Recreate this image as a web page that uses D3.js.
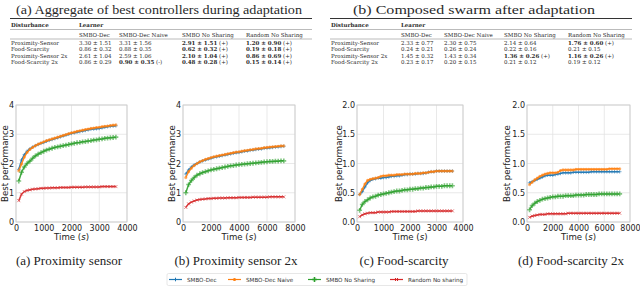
<!DOCTYPE html>
<html>
<head>
<meta charset="utf-8">
<script src="https://cdn.jsdelivr.net/npm/d3@7"></script>
<style>
  body { margin: 0; background: #fff; }
  svg { display: block; }
</style>
</head>
<body>
<script>
// ---- data ----
var learners = ["SMBO-Dec", "SMBO-Dec Naive", "SMBO No Sharing", "Random No sharing"];
var colors = ["#1f77b4", "#ff7f0e", "#2ca02c", "#d62728"];

var timeShort = [100,200,300,400,500,600,700,800,900,1000,1100,1200,1300,1400,1500,1600,1700,1800,
  1900,2000,2100,2200,2300,2400,2500,2600,2700,2800,2900,3000,3100,3200,3300,3400,3500,3600];
var timeLong = [200,400,600,800,1000,1200,1400,1600,1800,2000,2200,2400,2600,2800,3000,3200,3400,3600,
  3800,4000,4200,4400,4600,4800,5000,5200,5400,5600,5800,6000,6200,6400,6600,6800,7000,7200];

// (a) Proximity sensor
var proxDec   = [1.80,2.12,2.30,2.42,2.50,2.56,2.61,2.65,2.69,2.72,2.76,2.79,2.82,2.85,2.88,2.91,2.94,2.97,3.00,3.03,3.05,3.07,3.09,3.11,3.13,3.15,3.17,3.18,3.19,3.20,3.22,3.24,3.26,3.27,3.28,3.29];
var proxNaive = [1.75,1.98,2.22,2.38,2.48,2.55,2.61,2.66,2.70,2.74,2.78,2.81,2.84,2.87,2.90,2.93,2.96,2.99,3.02,3.05,3.07,3.10,3.12,3.14,3.16,3.18,3.20,3.21,3.23,3.24,3.26,3.27,3.28,3.30,3.31,3.32];
var proxNoSh  = [1.40,1.70,1.88,2.00,2.08,2.18,2.26,2.32,2.37,2.42,2.46,2.49,2.52,2.55,2.57,2.59,2.61,2.63,2.65,2.67,2.69,2.71,2.72,2.74,2.75,2.77,2.78,2.80,2.81,2.83,2.84,2.86,2.87,2.88,2.89,2.90];
var proxRand  = [0.73,0.95,1.04,1.08,1.10,1.12,1.13,1.14,1.15,1.15,1.16,1.16,1.17,1.17,1.17,1.18,1.18,1.18,1.18,1.19,1.19,1.19,1.19,1.19,1.20,1.20,1.20,1.20,1.20,1.20,1.21,1.21,1.21,1.21,1.21,1.21];

// (b) Proximity sensor 2x
var prox2Dec   = [1.64,1.78,1.88,1.95,2.00,2.05,2.09,2.12,2.15,2.18,2.21,2.23,2.25,2.27,2.29,2.31,2.33,2.35,2.37,2.38,2.40,2.42,2.43,2.45,2.46,2.48,2.49,2.50,2.52,2.53,2.54,2.55,2.56,2.57,2.58,2.59];
var prox2Naive = [1.52,1.72,1.84,1.93,2.00,2.06,2.10,2.14,2.17,2.20,2.23,2.25,2.27,2.29,2.31,2.33,2.35,2.37,2.39,2.40,2.42,2.44,2.45,2.47,2.48,2.50,2.51,2.52,2.54,2.55,2.56,2.57,2.58,2.59,2.60,2.60];
var prox2NoSh  = [1.00,1.28,1.42,1.52,1.60,1.65,1.69,1.72,1.75,1.78,1.80,1.82,1.84,1.86,1.88,1.90,1.92,1.93,1.95,1.96,1.97,1.98,1.99,2.00,2.01,2.02,2.03,2.04,2.05,2.06,2.07,2.07,2.08,2.08,2.09,2.09];
var prox2Rand  = [0.50,0.62,0.68,0.72,0.75,0.77,0.78,0.79,0.80,0.80,0.81,0.81,0.82,0.82,0.82,0.83,0.83,0.83,0.83,0.84,0.84,0.84,0.84,0.84,0.85,0.85,0.85,0.85,0.85,0.85,0.86,0.86,0.86,0.86,0.86,0.86];

// (c) Food-scarcity
var foodDec   = [0.47,0.52,0.60,0.67,0.71,0.73,0.74,0.75,0.75,0.76,0.76,0.77,0.78,0.78,0.79,0.79,0.80,0.81,0.81,0.82,0.82,0.82,0.83,0.83,0.83,0.84,0.85,0.86,0.86,0.87,0.87,0.87,0.87,0.87,0.87,0.87];
var foodNaive = [0.47,0.56,0.65,0.71,0.73,0.74,0.75,0.76,0.78,0.79,0.79,0.80,0.80,0.80,0.81,0.81,0.81,0.82,0.82,0.82,0.82,0.83,0.83,0.83,0.84,0.84,0.85,0.86,0.86,0.87,0.87,0.87,0.87,0.87,0.87,0.87];
var foodNoSh  = [0.20,0.30,0.35,0.38,0.41,0.43,0.44,0.46,0.47,0.48,0.49,0.50,0.51,0.52,0.53,0.53,0.54,0.55,0.55,0.56,0.56,0.57,0.57,0.58,0.58,0.59,0.59,0.60,0.60,0.61,0.61,0.61,0.62,0.62,0.62,0.62];
var foodRand  = [0.09,0.12,0.14,0.15,0.16,0.16,0.16,0.17,0.17,0.17,0.17,0.17,0.18,0.18,0.18,0.18,0.18,0.18,0.18,0.18,0.18,0.18,0.19,0.19,0.19,0.19,0.19,0.19,0.19,0.19,0.19,0.19,0.19,0.19,0.19,0.19];

// (d) Food-scarcity 2x
var food2Dec   = [0.67,0.69,0.71,0.73,0.75,0.77,0.79,0.80,0.80,0.80,0.81,0.82,0.83,0.84,0.84,0.84,0.84,0.85,0.85,0.85,0.85,0.85,0.85,0.85,0.86,0.86,0.86,0.86,0.86,0.86,0.86,0.86,0.86,0.86,0.86,0.86];
var food2Naive = [0.64,0.68,0.72,0.75,0.78,0.80,0.82,0.83,0.84,0.84,0.84,0.85,0.88,0.89,0.89,0.89,0.89,0.89,0.90,0.90,0.90,0.90,0.90,0.90,0.90,0.90,0.90,0.90,0.90,0.90,0.90,0.91,0.91,0.91,0.91,0.91];
var food2NoSh  = [0.21,0.28,0.32,0.35,0.37,0.39,0.40,0.41,0.42,0.43,0.43,0.44,0.44,0.44,0.45,0.45,0.45,0.45,0.46,0.46,0.46,0.46,0.47,0.47,0.47,0.47,0.47,0.48,0.48,0.48,0.48,0.48,0.48,0.48,0.48,0.48];
var food2Rand  = [0.08,0.10,0.11,0.12,0.13,0.13,0.13,0.14,0.14,0.14,0.14,0.14,0.14,0.14,0.14,0.15,0.15,0.15,0.15,0.15,0.15,0.15,0.15,0.15,0.15,0.15,0.15,0.15,0.15,0.15,0.15,0.15,0.15,0.15,0.15,0.15];

var xTicksShort = [0,1000,2000,3000,4000];
var xTicksLong = [0,2000,4000,6000,8000];
var yTicksProx = [0,1,2,3,4];
var yTicksFood = [0,0.5,1,1.5,2];
var captions = ["(a) Proximity sensor", "(b) Proximity sensor 2x", "(c) Food-scarcity", "(d) Food-scarcity 2x"];

// tables: *bold* marks
var tableTitles = ["(a) Aggregate of best controllers during adaptation", "(b) Composed swarm after adaptation"];
var tableCols = ["SMBO-Dec", "SMBO-Dec Naive", "SMBO No Sharing", "Random No Sharing"];
var disturbances = ["Proximity-Sensor", "Food-Scarcity", "Proximity-Sensor 2x", "Food-Scarcity 2x"];
var tableA = [
  ["3.30 ± 1.51", "3.31 ± 1.56", "*2.91 ± 1.51* (+)", "*1.20 ± 0.90* (+)"],
  ["0.86 ± 0.32", "0.88 ± 0.35", "*0.62 ± 0.32* (+)", "*0.19 ± 0.18* (+)"],
  ["2.61 ± 1.04", "2.59 ± 1.06", "*2.10 ± 1.04* (+)", "*0.86 ± 0.69* (+)"],
  ["0.86 ± 0.29", "*0.90 ± 0.35* (-)", "*0.48 ± 0.28* (+)", "*0.15 ± 0.14* (+)"]
];
var tableB = [
  ["2.33 ± 0.77", "2.30 ± 0.75", "2.14 ± 0.64", "*1.76 ± 0.60* (+)"],
  ["0.24 ± 0.21", "0.26 ± 0.24", "0.22 ± 0.16", "0.21 ± 0.15"],
  ["1.45 ± 0.32", "1.43 ± 0.34", "*1.36 ± 0.26* (+)", "*1.16 ± 0.26* (+)"],
  ["0.23 ± 0.17", "0.20 ± 0.15", "0.21 ± 0.12", "0.19 ± 0.12"]
];

// ---- layout ----
var W = 640, H = 287;
var serif = "'Liberation Serif', 'Times New Roman', serif";
var tserif = "'DejaVu Serif', serif";
var sans = "'DejaVu Sans', sans-serif";
var fs = 5.5;

var svg = d3.select("body").append("svg")
  .attr("width", W).attr("height", H);

// tables
function drawTable(title, rows, left, right, cx, tw, colX) {
  var g = svg.append("g").attr("fill", "#2a2a2a");
  g.append("text").attr("x", cx).attr("y", 14).attr("text-anchor", "middle")
    .attr("font-family", serif).attr("font-size", 13)
    .attr("textLength", tw).attr("lengthAdjust", "spacingAndGlyphs").text(title);
  g.append("line").attr("x1", left).attr("x2", right).attr("y1", 18.5).attr("y2", 18.5)
    .attr("stroke", "#333").attr("stroke-width", 1);
  g.append("line").attr("x1", left).attr("x2", right).attr("y1", 29.5).attr("y2", 29.5)
    .attr("stroke", "#777").attr("stroke-width", 0.5);
  g.append("line").attr("x1", left).attr("x2", right).attr("y1", 39).attr("y2", 39)
    .attr("stroke", "#777").attr("stroke-width", 0.5);
  var tg = g.append("g").attr("font-family", tserif).attr("font-size", fs);
  tg.append("text").attr("x", left + 1).attr("y", 26.5)
    .attr("font-weight", "bold").text("Disturbance");
  tg.append("text").attr("x", colX[0]).attr("y", 26.5)
    .attr("font-weight", "bold").text("Learner");
  tableCols.forEach(function(c, i) {
    tg.append("text").attr("x", colX[i]).attr("y", 36.5).text(c);
  });
  var rowY = [45, 51.4, 57.8, 64.2];
  rows.forEach(function(r, j) {
    tg.append("text").attr("x", left + 1).attr("y", rowY[j]).text(disturbances[j]);
    r.forEach(function(cell, i) {
      var t = tg.append("text").attr("x", colX[i]).attr("y", rowY[j]);
      var m = cell.match(/^\*(.*)\*(.*)$/);
      if (m) {
        t.append("tspan").attr("font-weight", "bold").text(m[1]);
        if (m[2]) t.append("tspan").text(m[2].replace(/^ /, "\u00a0"));
      } else {
        t.text(cell);
      }
    });
  });
}
drawTable(tableTitles[0], tableA, 10, 312, 159, 286, [79, 119, 182, 246]);
drawTable(tableTitles[1], tableB, 330, 632, 474, 242, [401, 444, 504, 568]);

// panels
var panels = [
  {x0: 16,  x1: 127, time: timeShort, xTicks: xTicksShort, yTicks: yTicksProx, fmt: d3.format("d"),
   series: [proxDec, proxNaive, proxNoSh, proxRand], ylabX: 5, capX: 69},
  {x0: 183, x1: 295, time: timeLong, xTicks: xTicksLong, yTicks: yTicksProx, fmt: d3.format("d"),
   series: [prox2Dec, prox2Naive, prox2NoSh, prox2Rand], ylabX: 172, capX: 236},
  {x0: 357, x1: 463, time: timeShort, xTicks: xTicksShort, yTicks: yTicksFood, fmt: d3.format(".1f"),
   series: [foodDec, foodNaive, foodNoSh, foodRand], ylabX: 339, capX: 404},
  {x0: 527, x1: 630, time: timeLong, xTicks: xTicksLong, yTicks: yTicksFood, fmt: d3.format(".1f"),
   series: [food2Dec, food2Naive, food2NoSh, food2Rand], ylabX: 507, capX: 571}
];
var yTop = 105, yBot = 222;

// marker shapes (path strings centred on 0,0)
function markerPath(k) {
  if (k === 0) return "M-1.8,0H1.8M0,-1.8V1.8";
  if (k === 1) return d3.symbol().type(d3.symbolCircle).size(8)();
  if (k === 2) return d3.symbol().type(d3.symbolCross).size(13)();
  return "M-1.5,-1.5L1.5,1.5M-1.5,1.5L1.5,-1.5";
}
function drawMarker(sel, k) {
  var p = sel.append("path").attr("d", markerPath(k));
  if (k === 0 || k === 3) p.attr("fill", "none").attr("stroke", colors[k]).attr("stroke-width", 1);
  else p.attr("fill", colors[k]);
  return p;
}

panels.forEach(function(p, pi) {
  var x = d3.scaleLinear().domain([0, p.xTicks[p.xTicks.length - 1]]).range([p.x0, p.x1]);
  var y = d3.scaleLinear().domain([0, p.yTicks[p.yTicks.length - 1]]).range([yBot, yTop]);
  var g = svg.append("g");

  // grid
  g.append("g").selectAll("line").data(p.xTicks).join("line")
    .attr("x1", d => x(d)).attr("x2", d => x(d)).attr("y1", yTop).attr("y2", yBot)
    .attr("stroke", "#e3e3e3").attr("stroke-width", 0.8);
  g.append("g").selectAll("line").data(p.yTicks).join("line")
    .attr("x1", p.x0).attr("x2", p.x1).attr("y1", d => y(d)).attr("y2", d => y(d))
    .attr("stroke", "#e3e3e3").attr("stroke-width", 0.8);

  // axes (labels only)
  var ax = g.append("g").attr("transform", "translate(0," + yBot + ")")
    .call(d3.axisBottom(x).tickValues(p.xTicks).tickSize(0).tickPadding(3).tickFormat(d3.format("d")));
  var ay = g.append("g").attr("transform", "translate(" + p.x0 + ",0)")
    .call(d3.axisLeft(y).tickValues(p.yTicks).tickSize(0).tickPadding(2).tickFormat(p.fmt));
  [ax, ay].forEach(function(a) {
    a.select(".domain").remove();
    a.selectAll("text").attr("font-family", sans).attr("font-size", 8).attr("fill", "#222");
  });

  // frame
  g.append("rect").attr("x", p.x0).attr("y", yTop).attr("width", p.x1 - p.x0).attr("height", yBot - yTop)
    .attr("fill", "none").attr("stroke", "#c8c8c8").attr("stroke-width", 0.8);

  // series
  p.series.forEach(function(vals, k) {
    var pts = vals.map((v, i) => [p.time[i], v]);
    var line = d3.line().x(d => x(d[0])).y(d => y(d[1]));
    g.append("path").datum(pts).attr("d", line)
      .attr("fill", "none").attr("stroke", colors[k]).attr("stroke-width", 1.5).attr("opacity", 0.9);
    var mg = g.append("g").attr("opacity", 0.6);
    pts.forEach(function(d) {
      drawMarker(mg, k).attr("transform", "translate(" + x(d[0]) + "," + y(d[1]) + ")");
    });
  });

  // labels
  svg.append("text")
    .attr("transform", "translate(" + (p.ylabX + 3) + "," + ((yTop + yBot) / 2) + ") rotate(-90)")
    .attr("text-anchor", "middle").attr("font-family", sans).attr("font-size", 8.6).attr("fill", "#222")
    .text("Best performance");
  var xl = svg.append("text").attr("x", (p.x0 + p.x1) / 2).attr("y", 240)
    .attr("text-anchor", "middle").attr("font-family", sans).attr("font-size", 8.6).attr("fill", "#222");
  xl.append("tspan").text("Time (");
  xl.append("tspan").attr("font-style", "italic").text("s");
  xl.append("tspan").text(")");
  svg.append("text").attr("x", p.capX).attr("y", 265).attr("text-anchor", "middle")
    .attr("font-family", serif).attr("font-size", 13).attr("fill", "#222").text(captions[pi]);
});

// legend
var lg = svg.append("g");
lg.append("rect").attr("x", 167).attr("y", 273.5).attr("width", 300).attr("height", 12)
  .attr("rx", 1.5).attr("fill", "#fff").attr("stroke", "#ddd").attr("stroke-width", 0.7);
var legX = [169, 228, 308, 390];
learners.forEach(function(name, k) {
  var e = lg.append("g").attr("transform", "translate(" + legX[k] + ",279.5)");
  e.append("line").attr("x1", 0).attr("x2", 13).attr("stroke", colors[k]).attr("stroke-width", 1.2);
  drawMarker(e, k).attr("transform", "translate(6.5,0)");
  e.append("text").attr("x", 18).attr("y", 2).attr("font-family", sans).attr("font-size", 5.6)
    .attr("fill", "#333").text(name);
});
</script>
</body>
</html>
